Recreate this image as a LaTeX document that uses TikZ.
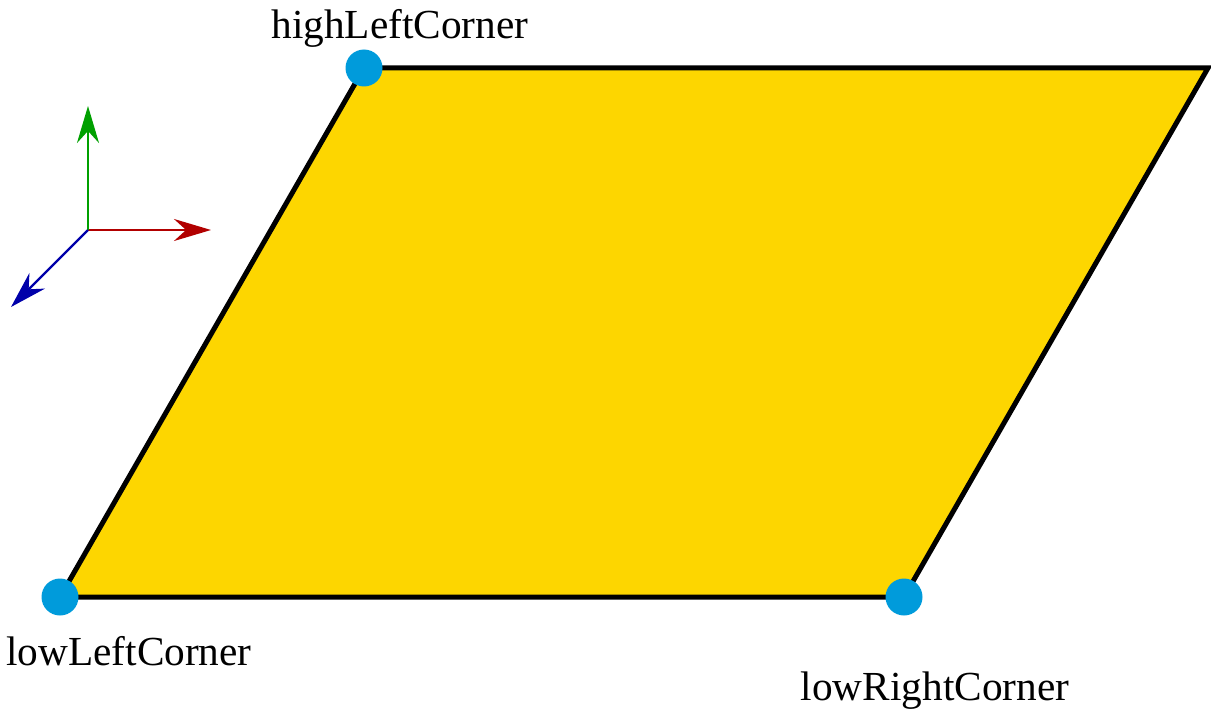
\documentclass[tikz,border=0pt]{standalone}
\usepackage{fontspec}
\setmainfont{Liberation Serif}
\usetikzlibrary{arrows.meta}
\definecolor{plate}{RGB}{253,214,0}
\definecolor{dotblue}{RGB}{0,155,219}
\definecolor{axred}{RGB}{178,0,0}
\definecolor{axgreen}{RGB}{0,160,0}
\definecolor{axblue}{RGB}{0,0,170}
\tikzset{
  corner/.style={circle, fill=dotblue, minimum size=37pt, inner sep=0pt},
  lbl/.style={anchor=base, inner sep=0pt, font=\fontsize{41.3}{48}\selectfont},
  axis/.style={line width=2.2pt, -{Stealth[length=37pt, width=22pt]}},
}
\begin{document}
\begin{tikzpicture}[x=1pt, y=-1pt]
\useasboundingbox (0,0) rectangle (1211,709);
\coordinate (ll) at (60,597);
\coordinate (lr) at (904,597);
\coordinate (hr) at (1208,68);
\coordinate (hl) at (364,68);
\filldraw[fill=plate, draw=black, line width=5pt, line join=miter] (ll) -- (lr) -- (hr) -- (hl) -- cycle;
\node[corner] (cll) at (ll) {};
\node[corner] (clr) at (lr) {};
\node[corner] (chl) at (hl) {};
\node[lbl] (tll) at (129,665) {lowLeftCorner};
\node[lbl] (tlr) at (935,700) {lowRightCorner};
\node[lbl] (thl) at (400,39) {highLeftCorner};
\coordinate (o) at (88,230);
\coordinate (xe) at (211,230);
\coordinate (ye) at (88,106);
\coordinate (ze) at (11,307);
\draw[axis, axred] (o) -- (xe);
\draw[axis, axgreen] (o) -- (ye);
\draw[axis, axblue] (o) -- (ze);
\end{tikzpicture}
\end{document}
